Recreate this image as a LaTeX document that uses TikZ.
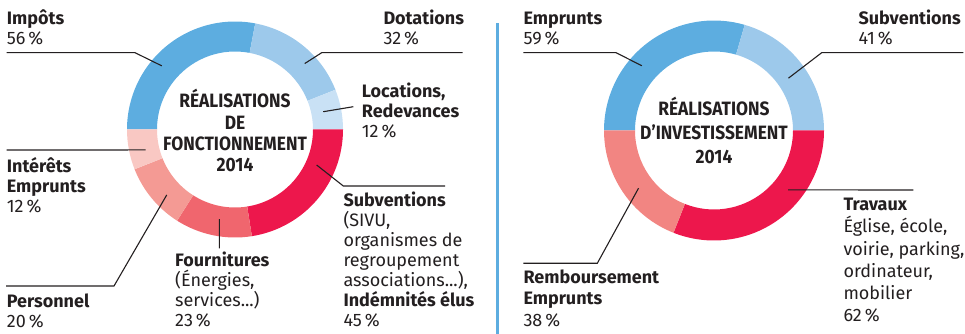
\documentclass[tikz,border=0pt]{standalone}
\usepackage{fontspec}
\setmainfont{Fira Sans}
\newfontfamily\titrefont[FakeStretch=0.9]{Fira Sans}
\definecolor{ink}{HTML}{231F20}
\definecolor{bleu}{HTML}{5DADE0}
\definecolor{bleuclair}{HTML}{9DC9EB}
\definecolor{bleupale}{HTML}{C9E1F5}
\definecolor{rouge}{HTML}{ED174C}
\definecolor{corail}{HTML}{F0666E}
\definecolor{saumon}{HTML}{F49A94}
\definecolor{rose}{HTML}{F9C8C3}
\definecolor{vieuxrose}{HTML}{F28582}
\begin{document}
\begin{tikzpicture}[x=1pt, y=1pt,
  lbl/.style={anchor=base west, align=left, inner sep=0pt, text=ink,
    font=\fontsize{18}{20}\selectfont},
  titre/.style={anchor=base, align=center, inner sep=0pt, text=ink,
    font=\titrefont\bfseries\fontsize{19.3}{21.3}\selectfont},
  leader/.style={draw=ink, line width=1.1pt}]
  \useasboundingbox (0,0) rectangle (965,334);

  % fonctionnement
  \begin{scope}[shift={(235,204.5)}]
    \foreach \a/\b/\c in {180/79.2/bleu, 79.2/21.6/bleuclair, 21.6/0/bleupale,
        0/-81/rouge, -81/-122.4/corail, -122.4/-158.4/saumon, -158.4/-180/rose}
      \fill[\c] (\a:108) arc[start angle=\a, end angle=\b, radius=108]
        -- (\b:78) arc[start angle=\b, end angle=\a, radius=78] -- cycle;
    \coordinate (p-impots) at (139:97);
    \coordinate (p-dotations) at (43.4:96);
    \coordinate (p-locations) at (11.4:90);
    \coordinate (p-interets) at (-167.1:91.6);
    \coordinate (p-personnel) at (-136.2:94.6);
    \coordinate (p-fournitures) at (-99.9:91);
    \coordinate (p-subventions) at (-23.5:89);
  \end{scope}
  \node[titre] (fonct) at (235,162.3)
    {RÉALISATIONS\\DE\\FONCTIONNEMENT\\2014};

  \node[lbl] (impots) at (6.7,289) {\textbf{Impôts}\\56\,\%};
  \node[lbl] (dotations) at (383.3,289) {\textbf{Dotations}\\32\,\%};
  \node[lbl] (locations) at (361.7,196.7)
    {\textbf{Locations,}\\\textbf{Redevances}\\12\,\%};
  \node[lbl] (interets) at (6.7,121.7)
    {\textbf{Intérêts}\\\textbf{Emprunts}\\12\,\%};
  \node[lbl] (personnel) at (6.7,6.3) {\textbf{Personnel}\\20\,\%};
  \node[lbl] (fournitures) at (175,7.3)
    {\textbf{Fournitures}\\(Énergies,\\services...)\\23\,\%};
  \node[lbl] (subventions) at (343.3,7.3)
    {\textbf{Subventions}\\(SIVU,\\organismes de\\regroupement\\associations...),\\\textbf{Indémnités élus}\\45\,\%};

  \coordinate (b-impots) at (135,281.3);
  \coordinate (e-impots) at (6.7,281.3);
  \coordinate (b-dotations) at (321.7,281.3);
  \coordinate (e-dotations) at (462.7,281.3);
  \coordinate (e-locations) at (353.3,227.3);
  \coordinate (e-interets) at (6.7,184);
  \coordinate (b-personnel) at (114,48);
  \coordinate (e-personnel) at (6,48);
  \coordinate (e-fournitures) at (219.3,85.7);
  \coordinate (b-subventions) at (343.3,148);
  \coordinate (e-subventions) at (445,148);
  \draw[leader] (p-impots) -- (b-impots) -- (e-impots);
  \draw[leader] (p-dotations) -- (b-dotations) -- (e-dotations);
  \draw[leader] (p-locations) -- (e-locations);
  \draw[leader] (p-interets) -- (e-interets);
  \draw[leader] (p-personnel) -- (b-personnel) -- (e-personnel);
  \draw[leader] (p-fournitures) -- (e-fournitures);
  \draw[leader] (p-subventions) -- (b-subventions) -- (e-subventions);

  % separation
  \coordinate (sep-haut) at (497.3,310.7);
  \coordinate (sep-bas) at (497.3,0);
  \draw[bleu, line width=2.4pt] (sep-haut) -- (sep-bas);

  % investissement
  \begin{scope}[shift={(714,203.5)}]
    \foreach \a/\b/\c in {180/73.8/bleu, 73.8/0/bleuclair,
        0/-111.6/rouge, -111.6/-180/vieuxrose}
      \fill[\c] (\a:110) arc[start angle=\a, end angle=\b, radius=110]
        -- (\b:79) arc[start angle=\b, end angle=\a, radius=79] -- cycle;
    \coordinate (p-emprunts) at (138.1:97);
    \coordinate (p-subv) at (35.1:91);
    \coordinate (p-travaux) at (-38.7:95);
    \coordinate (p-remb) at (-142.6:95);
  \end{scope}
  \node[titre, font=\titrefont\bfseries\fontsize{19.3}{24}\selectfont]
    (invest) at (714,170.7) {RÉALISATIONS\\D’INVESTISSEMENT\\2014};

  \node[lbl] (emprunts) at (523.3,289) {\textbf{Emprunts}\\59\,\%};
  \node[lbl] (subv) at (858.3,289) {\textbf{Subventions}\\41\,\%};
  \node[lbl, font=\fontsize{18}{22.2}\selectfont] (travaux) at (843.3,12.3)
    {\textbf{Travaux}\\Église, école,\\voirie, parking,\\ordinateur,\\mobilier\\62\,\%};
  \node[lbl, font=\fontsize{18}{21.7}\selectfont] (remb) at (523.3,7.3)
    {\textbf{Remboursement}\\\textbf{Emprunts}\\38\,\%};

  \coordinate (b-emprunts) at (616,281.3);
  \coordinate (e-emprunts) at (523.3,281.3);
  \coordinate (b-subv) at (821.7,281.3);
  \coordinate (e-subv) at (963.3,281.3);
  \coordinate (e-travaux) at (913.3,144);
  \coordinate (b-remb) at (597.3,70.7);
  \coordinate (e-remb) at (523.3,70.7);
  \draw[leader] (p-emprunts) -- (b-emprunts) -- (e-emprunts);
  \draw[leader] (p-subv) -- (b-subv) -- (e-subv);
  \draw[leader] (p-travaux) -- (e-travaux);
  \draw[leader] (p-remb) -- (b-remb) -- (e-remb);
\end{tikzpicture}
\end{document}
